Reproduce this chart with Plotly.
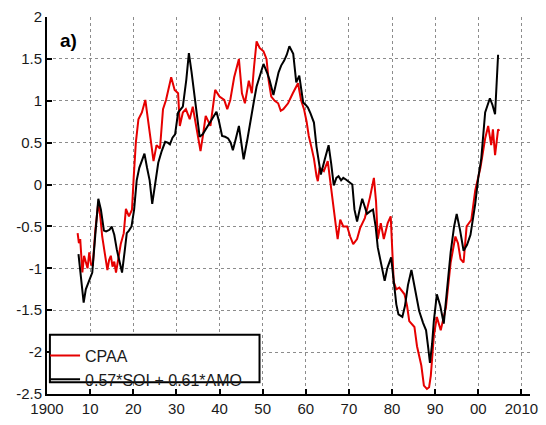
import plotly.graph_objects as go

# CPAA (red)
cpaa_year = [1907.1, 1907.4, 1907.7, 1908.2, 1908.6, 1909.1, 1909.4, 1909.8, 1910.2, 1910.6,
             1911.2, 1911.9, 1912.4, 1912.8, 1913.3, 1913.7, 1914.0, 1914.4, 1914.8, 1915.2,
             1915.6, 1916.0, 1916.4, 1917.1, 1917.8, 1918.3, 1919.0, 1919.7, 1920.1, 1920.6,
             1921.2, 1922.0, 1922.8, 1923.4, 1924.0, 1924.7, 1925.4, 1926.2, 1926.9, 1927.6,
             1928.2, 1928.8, 1929.6, 1930.4, 1930.8, 1931.5, 1932.2, 1933.1, 1933.8, 1934.4,
             1934.9, 1935.6, 1936.2, 1936.8, 1937.9, 1939.0, 1940.0, 1941.1, 1941.8, 1942.5,
             1943.4, 1944.5, 1945.2, 1945.9, 1946.8, 1947.5, 1948.0, 1948.6, 1949.3, 1950.2,
             1950.9, 1951.4, 1952.0, 1952.8, 1953.6, 1954.2, 1954.8, 1955.9, 1957.0, 1958.2,
             1958.9, 1959.6, 1960.2, 1960.7, 1961.3, 1961.9, 1962.5, 1962.8, 1963.2, 1964.2,
             1965.1, 1965.8, 1966.5, 1967.0, 1967.4, 1968.0, 1968.7, 1969.6, 1970.3, 1971.0,
             1971.9, 1972.6, 1973.7, 1974.9, 1975.8, 1976.3, 1976.7, 1977.4, 1978.1, 1979.0,
             1979.7, 1980.4, 1981.0, 1981.7, 1982.9, 1983.5, 1984.0, 1985.2, 1985.8, 1986.8,
             1987.4, 1988.1, 1988.6, 1989.0, 1989.7, 1990.4, 1991.3, 1992.5, 1993.6, 1994.7,
             1995.3, 1995.9, 1996.6, 1997.3, 1998.4, 1999.3, 2000.5, 2001.6, 2002.3, 2003.0,
             2003.4, 2003.9, 2004.6, 2004.9]
cpaa_value = [-0.58, -0.70, -0.65, -1.05, -0.85, -0.93, -1.00, -0.81, -0.95, -0.97,
              -0.55, -0.21, -0.40, -0.62, -0.80, -0.89, -1.02, -0.90, -0.85, -0.98,
              -0.92, -1.05, -0.93, -0.71, -0.58, -0.29, -0.38, -0.30, 0.08, 0.50,
              0.78, 0.86, 1.01, 0.75, 0.55, 0.28, 0.47, 0.43, 0.90, 1.01,
              1.15, 1.28, 1.13, 1.09, 0.70, 0.86, 0.90, 0.78, 0.93, 0.75,
              0.58, 0.40, 0.60, 0.82, 0.70, 1.13, 1.05, 1.01, 0.90, 1.01,
              1.28, 1.50, 1.09, 0.97, 1.24, 1.09, 1.40, 1.71, 1.63, 1.59,
              1.50, 1.24, 1.05, 1.00, 0.97, 0.88, 0.90, 0.97, 1.09, 1.21,
              1.01, 0.90, 0.75, 0.58, 0.45, 0.31, 0.10, 0.04, 0.20, 0.16,
              0.28, -0.03, -0.27, -0.50, -0.65, -0.42, -0.50, -0.50, -0.62, -0.71,
              -0.65, -0.52, -0.40, -0.15, 0.08, -0.20, -0.65, -0.46, -0.65, -0.46,
              -0.38, -1.16, -1.25, -1.23, -1.31, -1.45, -1.63, -1.70, -1.93, -2.16,
              -2.40, -2.44, -2.42, -2.28, -1.81, -1.58, -1.74, -1.47, -0.93, -0.62,
              -0.70, -0.89, -0.93, -0.50, -0.42, -0.07, 0.20, 0.55, 0.70, 0.47,
              0.66, 0.35, 0.66, 0.64]

# 0.57*SOI + 0.61*AMO (black)
fit_year = [1907.3, 1908.0, 1908.5, 1909.0, 1909.5, 1910.0, 1910.5, 1911.2, 1911.9, 1912.5,
            1913.2, 1913.7, 1914.5, 1915.0, 1915.6, 1916.2, 1916.8, 1917.4, 1918.0, 1918.5,
            1919.0, 1919.6, 1920.2, 1920.8, 1921.4, 1921.9, 1922.6, 1923.2, 1923.8, 1924.4,
            1925.0, 1925.8, 1926.6, 1927.4, 1928.0, 1928.5, 1929.1, 1929.7, 1930.4, 1931.0,
            1931.5, 1932.3, 1932.9, 1933.5, 1934.2, 1934.8, 1935.4, 1936.1, 1936.8, 1937.3,
            1937.9, 1938.6, 1939.3, 1939.9, 1940.6, 1941.3, 1942.0, 1942.6, 1943.1, 1943.8,
            1944.5, 1945.0, 1945.6, 1946.5, 1947.5, 1948.0, 1948.6, 1949.4, 1950.2, 1951.0,
            1951.6, 1952.5, 1953.1, 1953.7, 1954.3, 1955.0, 1955.6, 1956.2, 1957.1, 1957.8,
            1958.5, 1959.4, 1960.0, 1960.5, 1961.1, 1961.9, 1962.5, 1963.5, 1964.4, 1965.3,
            1965.9, 1966.5, 1967.1, 1967.6, 1968.2, 1968.7, 1969.3, 1969.9, 1970.8, 1971.3,
            1971.9, 1972.5, 1973.1, 1973.6, 1974.2, 1974.9, 1975.6, 1976.2, 1976.7, 1977.5,
            1978.3, 1978.9, 1979.8, 1980.4, 1981.0, 1981.5, 1982.4, 1983.0, 1983.7, 1984.5,
            1985.2, 1986.3, 1987.2, 1987.9, 1988.4, 1988.8, 1989.3, 1989.7, 1990.4, 1991.2,
            1992.0, 1992.8, 1993.6, 1994.4, 1995.0, 1995.8, 1996.6, 1997.4, 1998.2, 1999.3,
            2000.0, 2000.7, 2001.6, 2002.7, 2003.3, 2003.9, 2004.6]
fit_value = [-0.83, -1.20, -1.41, -1.25, -1.18, -1.12, -1.05, -0.60, -0.17, -0.30,
             -0.55, -0.56, -0.54, -0.50, -0.60, -0.78, -0.92, -1.05, -0.80, -0.58,
             -0.55, -0.50, -0.30, 0.05, 0.20, 0.28, 0.37, 0.20, 0.05, -0.23,
             0.00, 0.26, 0.40, 0.51, 0.50, 0.48, 0.56, 0.60, 0.86, 0.90,
             0.93, 1.25, 1.57, 1.35, 1.05, 0.80, 0.57, 0.60, 0.66, 0.70,
             0.74, 0.80, 0.87, 0.75, 0.58, 0.57, 0.55, 0.50, 0.41, 0.55,
             0.70, 0.52, 0.30, 0.55, 0.82, 1.00, 1.17, 1.32, 1.44, 1.34,
             1.25, 1.07, 1.20, 1.34, 1.42, 1.48, 1.55, 1.65, 1.56, 1.22,
             1.30, 0.98, 0.95, 0.92, 0.85, 0.74, 0.45, 0.12, 0.30, 0.47,
             0.25, -0.01, 0.08, 0.10, 0.05, 0.08, 0.06, 0.04, 0.00, -0.30,
             -0.44, -0.30, -0.17, -0.25, -0.35, -0.32, -0.30, -0.50, -0.75, -0.95,
             -1.15, -1.00, -0.87, -1.15, -1.43, -1.55, -1.58, -1.45, -1.20, -1.02,
             -1.20, -1.51, -1.65, -1.74, -1.95, -2.13, -1.90, -1.63, -1.31, -1.45,
             -1.66, -1.25, -0.81, -0.50, -0.35, -0.55, -0.79, -0.72, -0.60, -0.23,
             0.08, 0.31, 0.86, 1.03, 0.95, 0.84, 1.55]

x_tick_vals = [1900, 1910, 1920, 1930, 1940, 1950, 1960, 1970, 1980, 1990, 2000, 2010]
x_tick_text = ["1900", "10", "20", "30", "40", "50", "60", "70", "80", "90", "00", "2010"]
y_tick_vals = [-2.5, -2, -1.5, -1, -0.5, 0, 0.5, 1, 1.5, 2]
y_tick_text = ["-2.5", "-2", "-1.5", "-1", "-0.5", "0", "0.5", "1", "1.5", "2"]

fig = go.Figure()
fig.add_trace(go.Scatter(x=cpaa_year, y=cpaa_value, mode="lines", name="CPAA",
                         line=dict(color="#e60000", width=2)))
fig.add_trace(go.Scatter(x=fit_year, y=fit_value, mode="lines", name="0.57*SOI + 0.61*AMO",
                         line=dict(color="#000000", width=2)))

font_family = "Liberation Sans, Arial, sans-serif"
fig.update_layout(
    width=546, height=425,
    margin=dict(l=47, r=8, t=15, b=23),
    paper_bgcolor="white", plot_bgcolor="white",
    font=dict(family=font_family, size=15, color="#1a1a1a"),
    showlegend=True,
    legend=dict(x=-0.004, y=0.147, xanchor="left", yanchor="top",
                borderwidth=0, bgcolor="rgba(0,0,0,0)",
                font=dict(size=16, color="#1a1a1a"), tracegroupgap=0,
                itemwidth=30),
    xaxis=dict(range=[1900, 2012], tickmode="array", tickvals=x_tick_vals, ticktext=x_tick_text,
               showgrid=True, gridcolor="#8c8c8c", griddash="dot", gridwidth=1,
               showline=True, linecolor="black", linewidth=2,
               ticks="inside", ticklen=5, tickwidth=2, tickcolor="black",
               zeroline=False, tickfont=dict(size=15)),
    yaxis=dict(range=[-2.5, 2], tickmode="array", tickvals=y_tick_vals, ticktext=y_tick_text,
               showgrid=True, gridcolor="#8c8c8c", griddash="dot", gridwidth=1,
               showline=True, linecolor="black", linewidth=2,
               ticks="inside", ticklen=5, tickwidth=2, tickcolor="black",
               zeroline=False, tickfont=dict(size=15)),
    shapes=[dict(type="rect", xref="paper", yref="paper", x0=0.006, x1=0.44, y0=0.031, y1=0.157,
                 line=dict(color="black", width=2), fillcolor="white", layer="above")],
    annotations=[dict(text="<b>a)</b>", x=0.023, y=1.72, xref="paper", yref="y",
                      showarrow=False, font=dict(size=19, color="black", family=font_family))],
)

fig.write_html("out.html", config={"displayModeBar": False},
               post_script="document.body.style.margin='0';")
